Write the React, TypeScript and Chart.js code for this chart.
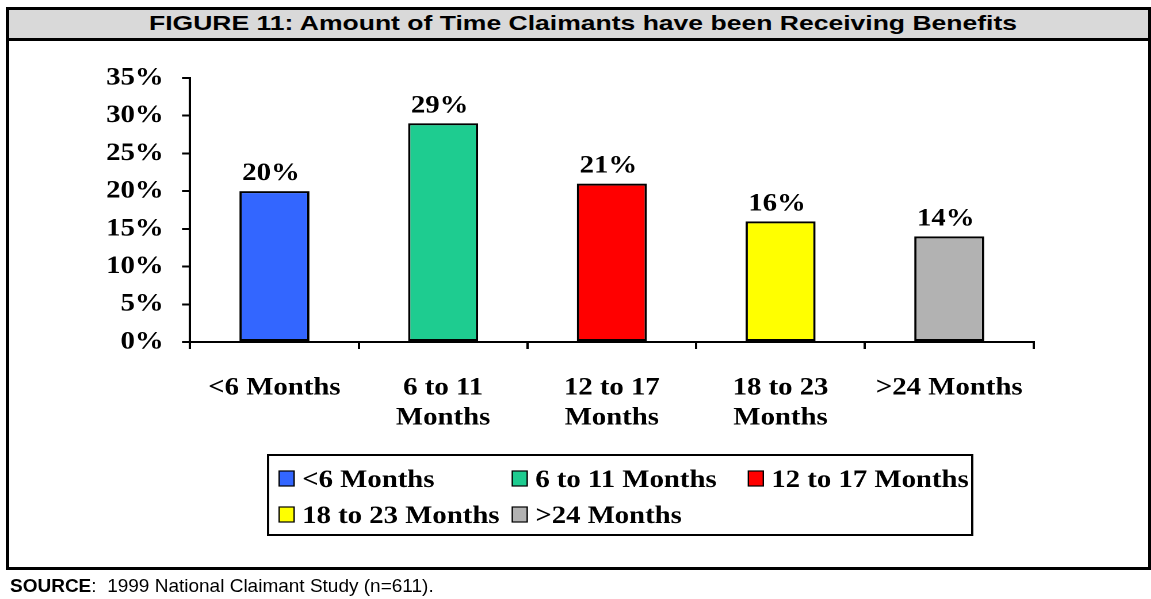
import React, { useEffect, useRef } from "react";
import { Chart, registerables } from "chart.js";

Chart.register(...registerables);

// ---------- data ----------
const categories = ["<6 Months", "6 to 11 Months", "12 to 17 Months", "18 to 23 Months", ">24 Months"];
const tickLabels = [["<6 Months"], ["6 to 11", "Months"], ["12 to 17", "Months"], ["18 to 23", "Months"], [">24 Months"]];
const values = [20, 29, 21, 16, 14];
const barColors = ["#3366FF", "#1ECC90", "#FF0000", "#FFFF00", "#B2B2B2"];
const yMin = 0;
const yMax = 35;
const yStep = 5;
const titleText = "FIGURE 11: Amount of Time Claimants have been Receiving Benefits";
const sourceLabel = "SOURCE";
const sourceText = ":  1999 National Claimant Study (n=611).";

// ---------- layout (logical canvas units; canvas stretched horizontally) ----------
const STRETCH = 1.15;
const PAGE_W = 1151;
const PAGE_H = 599;
const LOGICAL_W = PAGE_W / STRETCH;
const SERIF = "'Liberation Serif', 'Times New Roman', serif";
const FONT_SIZE = 25;

const legendPlugin = {
  id: "boxLegend",
  afterDraw(chart: any) {
    const ctx = chart.ctx;
    ctx.save();
    ctx.strokeStyle = "#000";
    ctx.lineWidth = 2;
    ctx.strokeRect(233, 455, 612, 80);
    const cols = [242.6, 445.2, 650.4];
    const rows = [487, 523];
    ctx.font = `bold ${FONT_SIZE}px ${SERIF}`;
    ctx.textAlign = "left";
    ctx.textBaseline = "alphabetic";
    categories.forEach((c, i) => {
      const x = cols[i % 3];
      const y = rows[Math.floor(i / 3)];
      ctx.fillStyle = barColors[i];
      ctx.fillRect(x, y - 16, 13, 15);
      ctx.lineWidth = 1.2;
      ctx.strokeStyle = "#000";
      ctx.strokeRect(x, y - 16, 13, 15);
      ctx.fillStyle = "#000";
      ctx.fillText(c, x + 20, y);
    });
    ctx.restore();
  },
};

const dataLabelPlugin = {
  id: "barValues",
  afterDatasetsDraw(chart: any) {
    const ctx = chart.ctx;
    const meta = chart.getDatasetMeta(0);
    ctx.save();
    ctx.font = `bold ${FONT_SIZE}px ${SERIF}`;
    ctx.fillStyle = "#000";
    ctx.textAlign = "center";
    ctx.textBaseline = "alphabetic";
    meta.data.forEach((bar: any, i: number) => {
      ctx.fillText(`${values[i]}%`, bar.x - 3, bar.y - 11);
    });
    ctx.restore();
  },
};

export default function App() {
  const canvasRef = useRef<HTMLCanvasElement | null>(null);

  useEffect(() => {
    if (!canvasRef.current) return;
    const xFont = { family: SERIF, weight: "bold" as const, size: FONT_SIZE, lineHeight: 1.2 };
    const yFont = { family: SERIF, weight: "bold" as const, size: FONT_SIZE, lineHeight: 1.0 };
    const chart = new Chart(canvasRef.current, {
      type: "bar",
      data: {
        labels: tickLabels as any,
        datasets: [
          {
            data: values,
            backgroundColor: barColors,
            borderColor: "#000",
            borderWidth: 2,
            borderSkipped: false,
            barPercentage: 0.415,
            categoryPercentage: 1,
          },
        ],
      },
      options: {
        animation: false,
        responsive: true,
        maintainAspectRatio: false,
        devicePixelRatio: 2,
        layout: { padding: { left: 0, top: 78, right: LOGICAL_W - 898.3, bottom: 0 } },
        plugins: { legend: { display: false }, tooltip: { enabled: false }, title: { display: false } },
        scales: {
          x: {
            type: "category",
            offset: true,
            grid: {
              display: true,
              offset: true,
              drawOnChartArea: false,
              drawTicks: true,
              tickLength: 7,
              color: "#000",
              lineWidth: 2,
            },
            border: { display: true, color: "#000", width: 2 },
            ticks: {
              color: "#000",
              font: xFont,
              padding: 24,
              maxRotation: 0,
              minRotation: 0,
              autoSkip: false,
            },
            afterFit: (s: any) => {
              s.height = PAGE_H - 342;
            },
          },
          y: {
            min: yMin,
            max: yMax,
            ticks: {
              stepSize: yStep,
              autoSkip: false,
              color: "#000",
              font: yFont,
              padding: 16,
              callback: (v: any) => `${v}%`,
            },
            grid: {
              display: true,
              drawOnChartArea: false,
              drawTicks: true,
              tickLength: 7,
              color: "#000",
              lineWidth: 2,
            },
            border: { display: true, color: "#000", width: 2 },
            afterFit: (s: any) => {
              s.width = 165.2;
            },
          },
        },
      },
      plugins: [dataLabelPlugin, legendPlugin],
    });
    return () => chart.destroy();
  }, []);

  return (
    <div
      style={{
        position: "absolute",
        left: 0,
        top: 0,
        width: PAGE_W,
        height: PAGE_H,
        overflow: "hidden",
        background: "#fff",
      }}
    >
      <div
        style={{
          position: "absolute",
          left: 6,
          top: 7,
          width: 1145,
          height: 563,
          border: "3px solid #000",
          boxSizing: "border-box",
        }}
      />
      <div
        style={{
          position: "absolute",
          left: 9,
          top: 10,
          width: 1139,
          height: 28,
          background: "#d9d9d9",
          borderBottom: "3px solid #000",
        }}
      >
        <span
          style={{
            position: "absolute",
            left: 573.5,
            top: 2,
            whiteSpace: "nowrap",
            fontFamily: "Arial, 'Liberation Sans', sans-serif",
            fontWeight: "bold",
            fontSize: 21,
            lineHeight: "21px",
            color: "#000",
            transform: "translateX(-50%) scaleX(1.263)",
            transformOrigin: "50% 50%",
          }}
        >
          {titleText}
        </span>
      </div>
      <div
        style={{
          position: "absolute",
          left: 0,
          top: 0,
          width: LOGICAL_W,
          height: PAGE_H,
          transform: `scaleX(${STRETCH})`,
          transformOrigin: "0 0",
        }}
      >
        <canvas ref={canvasRef} />
      </div>
      <div
        style={{
          position: "absolute",
          left: 10,
          top: 576,
          whiteSpace: "nowrap",
          fontFamily: "Arial, 'Liberation Sans', sans-serif",
          fontSize: 19,
          lineHeight: "19px",
          color: "#000",
        }}
      >
        <b>{sourceLabel}</b>
        <span style={{ whiteSpace: "pre" }}>{sourceText}</span>
      </div>
    </div>
  );
}
